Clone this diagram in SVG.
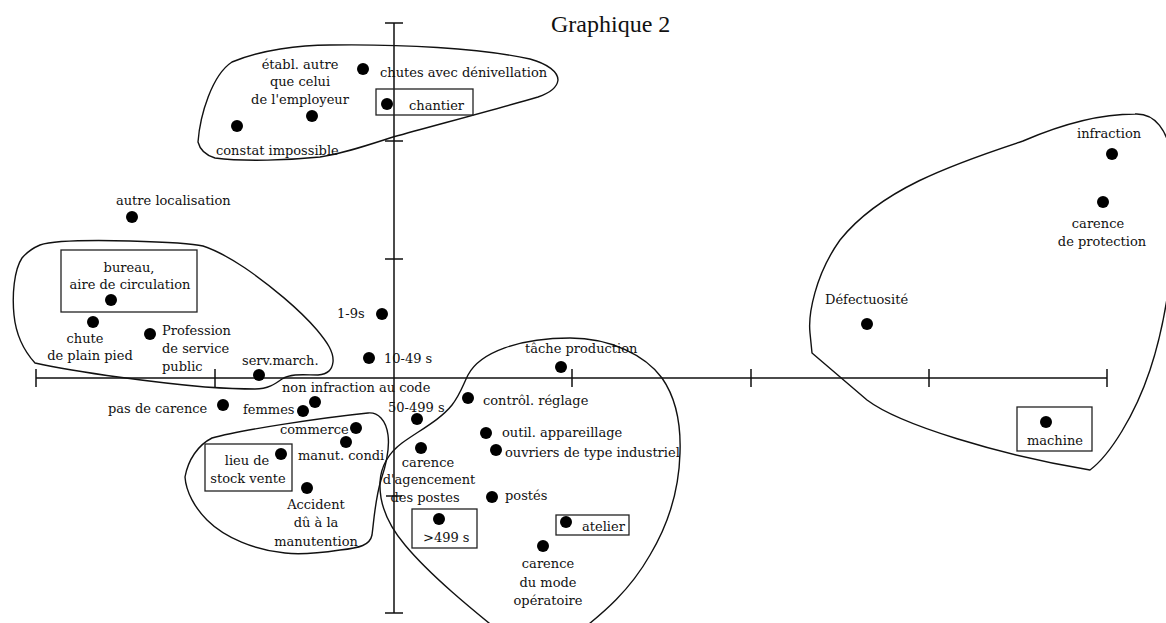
<svg xmlns="http://www.w3.org/2000/svg" width="1166" height="623" viewBox="0 0 1166 623">
<style>
text{font-family:"DejaVu Serif","Liberation Serif",serif;font-size:13px;fill:#111}
.c{text-anchor:middle}
.title{font-family:"Liberation Serif",serif;font-size:24px}
.dot{fill:#000}
.box{fill:none;stroke:#222;stroke-width:1.3}
.axis{fill:none;stroke:#111;stroke-width:1.5}
.hull{fill:none;stroke:#111;stroke-width:1.4;stroke-linejoin:round}
</style>
<rect width="1166" height="623" fill="#fff"/>
<text class="title" x="551" y="32">Graphique 2</text>
<g id="axes">
<path class="axis" d="M36 378H1107M394 23V613"/>
<path class="axis" d="M36 369V387M215 369V387M572 369V387M751 369V387M929 369V387M1107 369V387"/>
<path class="axis" d="M385 23H403M385 141H403M385 259H403M386 496H402M385 613H403"/>
</g>
<g id="clusters">
<path class="hull" d="M198 142C200 115 212 75 232 62C260 50 300 45 330 45C400 44 480 48 530 59C548 64 558 72 558 80C557 88 550 93 538 97C500 108 440 124 393 137C365 146 345 153 320 157C290 160 245 162 215 158C205 155 200 150 198 142Z"/>
<path class="hull" d="M40 245C55 240 90 240 130 241C165 242 190 243 203 246C215 250 230 258 245 268C270 285 300 310 317 330C327 342 334 352 333 362C332 370 328 374 318 375C305 375 292 373 282 379C275 384 268 389 255 389C240 389 220 388 205 387C160 383 80 373 35 363C25 352 16 335 14 315C12 295 14 270 22 258C27 252 33 248 40 245Z"/>
<path class="hull" d="M185 477C188 460 198 445 212 438C240 430 320 418 368 413C378 412 386 420 388 435C390 450 386 465 381 480C375 500 374 520 372 535C370 545 360 548 340 550C320 553 300 555 285 553C255 550 225 538 207 520C195 508 186 492 185 477Z"/>
<path class="hull" d="M570 338C610 338 645 355 662 378C676 398 681 425 680 453C679 490 668 525 650 555C630 590 605 612 575 635L510 640C470 608 430 575 405 545C388 525 379 505 380 482C381 465 390 452 402 443C420 430 440 420 452 405C460 395 463 385 468 375C480 352 520 338 570 338Z"/>
<path class="hull" d="M812 353L867 400C900 425 1000 455 1090 470C1110 455 1135 415 1150 370C1160 340 1168 300 1172 260L1172 160C1168 130 1155 113 1135 114C1100 114 1060 125 1023 141C950 165 880 190 840 240C815 275 808 315 810 333Z"/>
</g>
<g id="n-chutes"><circle class="dot" cx="363" cy="69" r="6"/><text x="380" y="77">chutes avec dénivellation</text></g>
<g id="n-etabl"><circle class="dot" cx="312" cy="116" r="6"/><text class="c" x="300" y="69">établ. autre</text><text class="c" x="300" y="86">que celui</text><text class="c" x="300" y="104">de l'employeur</text></g>
<g id="n-constat"><circle class="dot" cx="237" cy="126" r="6"/><text x="216" y="155">constat impossible</text></g>
<g id="n-chantier"><rect class="box" x="376" y="89" width="97" height="26"/><circle class="dot" cx="387" cy="104" r="6"/><text x="409" y="110">chantier</text></g>
<g id="n-autre"><circle class="dot" cx="132" cy="217" r="6"/><text x="116" y="205">autre localisation</text></g>
<g id="n-bureau"><rect class="box" x="61" y="250" width="136" height="62"/><circle class="dot" cx="111" cy="300" r="6"/><text class="c" x="129" y="272">bureau,</text><text class="c" x="130" y="289">aire de circulation</text></g>
<g id="n-chute"><circle class="dot" cx="93" cy="322" r="6"/><text class="c" x="85" y="343">chute</text><text class="c" x="90" y="360">de plain pied</text></g>
<g id="n-profession"><circle class="dot" cx="150" cy="334" r="6"/><text x="162" y="335">Profession</text><text x="162" y="353">de service</text><text x="162" y="371">public</text></g>
<g id="n-serv"><circle class="dot" cx="259" cy="375" r="6"/><text x="242" y="365">serv.march.</text></g>
<g id="n-19"><circle class="dot" cx="382" cy="314" r="6"/><text x="337" y="318">1-9s</text></g>
<g id="n-1049"><circle class="dot" cx="369" cy="358" r="6"/><text x="384" y="363">10-49 s</text></g>
<g id="n-noninfr"><circle class="dot" cx="315" cy="402" r="6"/><text x="282" y="392">non infraction au code</text></g>
<g id="n-pascarence"><circle class="dot" cx="223" cy="405" r="6"/><text x="108" y="413">pas de carence</text></g>
<g id="n-femmes"><circle class="dot" cx="303" cy="411" r="6"/><text x="243" y="414">femmes</text></g>
<g id="n-commerce"><circle class="dot" cx="356" cy="428" r="6"/><text x="280" y="434">commerce</text></g>
<g id="n-manut"><circle class="dot" cx="346" cy="442" r="6"/><text x="298" y="460">manut. condi</text></g>
<g id="n-lieu"><rect class="box" x="205" y="444" width="87" height="47"/><circle class="dot" cx="281" cy="454" r="6"/><text class="c" x="247" y="465">lieu de</text><text class="c" x="248" y="483">stock vente</text></g>
<g id="n-accident"><circle class="dot" cx="307" cy="488" r="6"/><text class="c" x="316" y="509">Accident</text><text class="c" x="316" y="527">dû à la</text><text class="c" x="316" y="546">manutention</text></g>
<g id="n-tache"><circle class="dot" cx="561" cy="367" r="6"/><text x="525" y="353">tâche production</text></g>
<g id="n-controle"><circle class="dot" cx="468" cy="398" r="6"/><text x="483" y="405">contrôl. réglage</text></g>
<g id="n-50499"><circle class="dot" cx="417" cy="419" r="6"/><text x="388" y="412">50-499 s</text></g>
<g id="n-outil"><circle class="dot" cx="486" cy="433" r="6"/><text x="502" y="437">outil. appareillage</text></g>
<g id="n-ouvriers"><circle class="dot" cx="496" cy="450" r="6"/><text x="505" y="457">ouvriers de type industriel</text></g>
<g id="n-agencement"><circle class="dot" cx="421" cy="448" r="6"/><text class="c" x="428" y="467">carence</text><text class="c" x="429" y="484">d'agencement</text><text class="c" x="425" y="502">des postes</text></g>
<g id="n-499"><rect class="box" x="412" y="509" width="65" height="39"/><circle class="dot" cx="439" cy="519" r="6"/><text x="423" y="542">&gt;499 s</text></g>
<g id="n-postes"><circle class="dot" cx="492" cy="497" r="6"/><text x="505" y="500">postés</text></g>
<g id="n-atelier"><rect class="box" x="556" y="515" width="73" height="20"/><circle class="dot" cx="566" cy="522" r="6"/><text x="582" y="531">atelier</text></g>
<g id="n-mode"><circle class="dot" cx="543" cy="546" r="6"/><text class="c" x="548" y="568">carence</text><text class="c" x="548" y="587">du mode</text><text class="c" x="548" y="605">opératoire</text></g>
<g id="n-infraction"><circle class="dot" cx="1112" cy="154" r="6"/><text x="1077" y="138">infraction</text></g>
<g id="n-protection"><circle class="dot" cx="1103" cy="202" r="6"/><text class="c" x="1098" y="228">carence</text><text class="c" x="1102" y="246">de protection</text></g>
<g id="n-defect"><circle class="dot" cx="867" cy="324" r="6"/><text x="825" y="304">Défectuosité</text></g>
<g id="n-machine"><rect class="box" x="1017" y="407" width="75" height="44"/><circle class="dot" cx="1046" cy="422" r="6"/><text x="1027" y="445">machine</text></g>
</svg>
